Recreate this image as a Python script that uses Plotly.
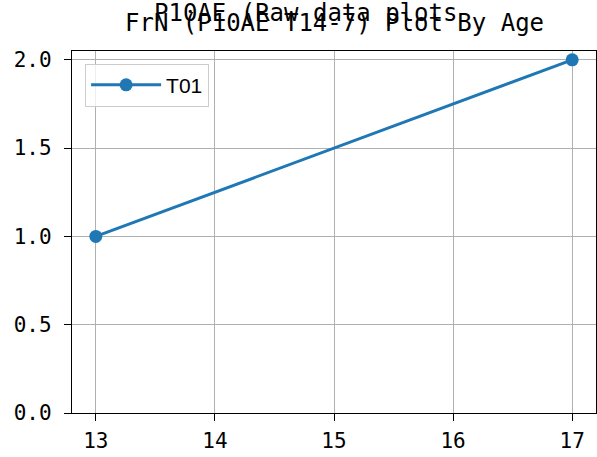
import plotly.graph_objects as go

ages = [13, 17]
values = [1.0, 2.0]
series_name = "T01"
x_ticks = [13, 14, 15, 16, 17]
y_ticks = [0.0, 0.5, 1.0, 1.5, 2.0]
y_tick_labels = ["0.0", "0.5", "1.0", "1.5", "2.0"]
suptitle = "P10AE (Raw data plots"
axes_title = "FrN (P10AE T14-7) Plot By Age"

blue = "#1f77b4"
mono = "DejaVu Sans Mono"

M_T, M_B = 51, 44
PLOT_H = 457 - M_T - M_B


def py(pixel_y):
    return 1 + (M_T - pixel_y) / PLOT_H


fig = go.Figure()
fig.add_trace(go.Scatter(
    x=ages, y=values, name=series_name, mode="lines+markers",
    line=dict(color=blue, width=3),
    marker=dict(color=blue, size=13),
))

axis_common = dict(
    showline=True, linecolor="black", linewidth=1.3, mirror=True,
    ticks="outside", ticklen=7, tickwidth=1.3, tickcolor="black",
    showgrid=True, gridcolor="#b0b0b0", gridwidth=1,
    zeroline=False, automargin=False,
    tickfont=dict(family=mono, size=21, color="black"),
)

fig.update_layout(
    width=597, height=457,
    margin=dict(l=72, r=1, t=M_T, b=M_B, autoexpand=False),
    paper_bgcolor="white", plot_bgcolor="white",
    showlegend=True,
    legend=dict(
        x=0.025, y=0.965, xanchor="left", yanchor="top",
        bgcolor="rgba(255,255,255,0.8)", bordercolor="#cccccc", borderwidth=1,
        itemwidth=70,
        font=dict(family="Liberation Sans", size=21, color="black"),
    ),
    xaxis=dict(range=[12.8, 17.2], tickvals=x_ticks, ticklabelstandoff=2, **axis_common),
    yaxis=dict(range=[0, 2.05], tickvals=y_ticks, ticktext=y_tick_labels,
               ticklabelstandoff=8, **axis_common),
    annotations=[
        dict(text=suptitle, xref="paper", yref="paper", x=(306 - 72) / 525, y=py(13),
             xanchor="center", yanchor="middle", showarrow=False,
             font=dict(family=mono, size=24, color="black")),
        dict(text=axes_title, xref="paper", yref="paper", x=0.5, y=py(23),
             xanchor="center", yanchor="middle", showarrow=False,
             font=dict(family=mono, size=24, color="black")),
    ],
)

fig.write_html("out.html",
               config={"displayModeBar": False},
               post_script="document.body.style.margin='0';document.body.style.overflow='hidden';")
